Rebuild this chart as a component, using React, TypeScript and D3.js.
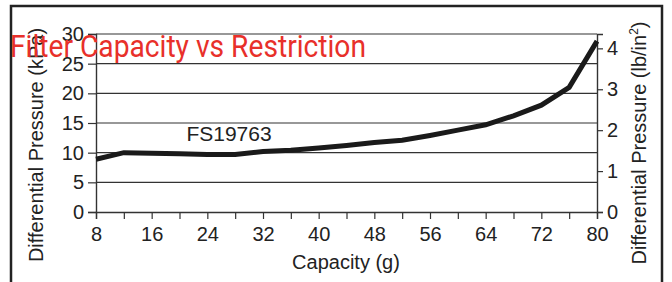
import React, { useEffect, useRef } from 'react';
import * as d3 from 'd3';

const capacity = [8, 12, 16, 20, 24, 28, 32, 36, 40, 44, 48, 52, 56, 60, 64, 68, 72, 76, 80];
const pressure = [8.9, 10.0, 9.9, 9.8, 9.7, 9.7, 10.2, 10.4, 10.8, 11.2, 11.7, 12.1, 12.9, 13.8, 14.7, 16.2, 18.0, 21.0, 28.8];
const xLabels = [8, 16, 24, 32, 40, 48, 56, 64, 72, 80];
const kpaTicks = [0, 5, 10, 15, 20, 25, 30];
const psiTicks = [0, 1, 2, 3, 4];

const KPA_PER_PSI = 6.895;

const App = () => {
  const svgRef = useRef<SVGSVGElement>(null);

  useEffect(() => {
    const svg = d3.select(svgRef.current);
    svg.selectAll('*').remove();
    const font = 'Liberation Sans, Arial, sans-serif';

    const left = 96, right = 597, top = 34, bottom = 212;
    const x = d3.scaleLinear().domain([8, 80]).range([left, right]);
    const y = d3.scaleLinear().domain([0, 30]).range([bottom, top]);
    const yPsi = d3.scaleLinear().domain([0, 30 / KPA_PER_PSI]).range([bottom, top]);

    svg.append('rect').attr('width', 672).attr('height', 282).attr('fill', '#fff');

    // outer frame
    svg.append('path')
      .attr('d', 'M11,290 V6 H662 V290')
      .attr('fill', 'none').attr('stroke', '#222').attr('stroke-width', 2.5);

    // gridlines
    svg.append('g').selectAll('line').data(kpaTicks.filter((t) => t > 0)).join('line')
      .attr('x1', left).attr('x2', right)
      .attr('y1', (d) => y(d)).attr('y2', (d) => y(d))
      .attr('stroke', '#333').attr('stroke-width', 1.2);

    // left axis
    const gl = svg.append('g').attr('transform', `translate(${left},0)`)
      .call(d3.axisLeft(y).tickValues(kpaTicks).tickSize(8).tickPadding(4));
    // right axis
    const gr = svg.append('g').attr('transform', `translate(${right},0)`)
      .call(d3.axisRight(yPsi).tickValues(psiTicks).tickSize(6).tickPadding(4).tickFormat(d3.format('d')));
    // bottom axis
    const gb = svg.append('g').attr('transform', `translate(0,${bottom})`)
      .call(d3.axisBottom(x).tickValues(d3.range(8, 81, 4)).tickSize(7).tickPadding(8)
        .tickFormat((d) => (xLabels.includes(+d) ? String(d) : '')));

    [gl, gr, gb].forEach((g) => {
      g.select('.domain').attr('stroke', '#333').attr('stroke-width', 1.4);
      g.selectAll('.tick line').attr('stroke', '#333').attr('stroke-width', 1.2);
      g.selectAll('text').attr('font-family', font).attr('font-size', 20).attr('fill', '#222');
    });

    const line = d3.line<number>()
      .x((_, i) => x(capacity[i]))
      .y((d) => y(d));
    svg.append('path').datum(pressure)
      .attr('d', line)
      .attr('fill', 'none').attr('stroke', '#1a1a1a')
      .attr('stroke-width', 5).attr('stroke-linejoin', 'miter');

    svg.append('text').attr('x', 229).attr('y', 141).attr('text-anchor', 'middle')
      .attr('font-family', font).attr('font-size', 21).attr('fill', '#222').text('FS19763');

    svg.append('text').attr('x', 346).attr('y', 269).attr('text-anchor', 'middle')
      .attr('font-family', font).attr('font-size', 20).attr('fill', '#222').text('Capacity (g)');

    svg.append('text').attr('transform', 'translate(43,145) rotate(-90)').attr('text-anchor', 'middle')
      .attr('font-family', font).attr('font-size', 20).attr('fill', '#222')
      .text('Differential Pressure (kPa)');

    const rt = svg.append('text').attr('transform', 'translate(646,143) rotate(-90)').attr('text-anchor', 'middle')
      .attr('font-family', font).attr('font-size', 20).attr('fill', '#222');
    rt.append('tspan').text('Differential Pressure (lb/in');
    rt.append('tspan').attr('font-size', 12).attr('dy', -8).text('2');
    rt.append('tspan').attr('dy', 8).text(')');

    svg.append('text').attr('x', 10).attr('y', 57)
      .attr('font-family', 'Roboto, sans-serif').attr('font-size', 32).attr('fill', '#e8302a')
      .attr('textLength', 356).attr('lengthAdjust', 'spacingAndGlyphs')
      .text('Filter Capacity vs Restriction');
  }, []);

  return (
    <svg ref={svgRef} width={672} height={282} style={{ position: 'absolute', left: 0, top: 0 }} />
  );
};

export default App;
